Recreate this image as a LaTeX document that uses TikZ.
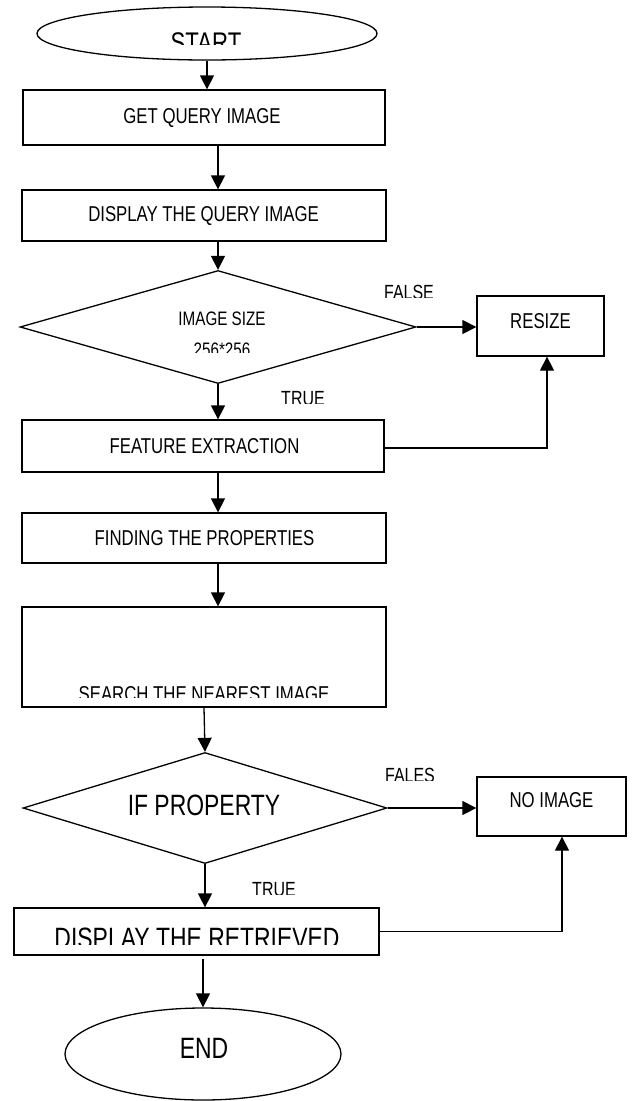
\documentclass[tikz,border=0pt]{standalone}
\usepackage{fontspec}
\setmainfont{Liberation Sans}[FakeStretch=0.78]
\usetikzlibrary{shapes.geometric,arrows.meta}
\tikzset{
  shp/.style={draw=black, line width=1.3pt, inner sep=0pt, fill=white},
  boxn/.style={shp, rectangle},
  ell/.style={shp, ellipse},
  dia/.style={shp, diamond},
  txt/.style={anchor=base, inner sep=0pt, font=\fontsize{21.5}{25}\selectfont},
  bigtxt/.style={txt, font=\fontsize{29.4}{33}\selectfont},
  lbl/.style={txt, font=\fontsize{20.5}{24}\selectfont},
  arr/.style={draw=black, line width=1.3pt, -{Triangle[length=14pt,width=14pt]}},
  ln/.style={draw=black, line width=1.3pt}
}
\begin{document}
\begin{tikzpicture}[x=1pt,y=-1pt]
\useasboundingbox (0,0) rectangle (632,1101);
\fill[white] (0,0) rectangle (632,1101);
% shapes
\node[ell, minimum width=340pt, minimum height=53pt] (s) at (207,33.5) {};
\node[boxn, minimum width=362pt, minimum height=55pt] (q1) at (204,117.5) {};
\node[boxn, minimum width=364pt, minimum height=51pt] (q2) at (204,215.5) {};
\node[dia, minimum width=396pt, minimum height=113pt] (d1) at (218,327) {};
\node[boxn, minimum width=127pt, minimum height=60pt] (r) at (540.5,326) {};
\node[boxn, minimum width=362pt, minimum height=52pt] (fe) at (203,446) {};
\node[boxn, minimum width=364pt, minimum height=50pt] (fp) at (204,538) {};
\node[boxn, minimum width=364pt, minimum height=100pt] (se) at (204,657) {};
\node[dia, minimum width=364pt, minimum height=111pt] (d2) at (205,808) {};
\node[boxn, minimum width=149pt, minimum height=59pt] (ni) at (551.5,806.5) {};
\node[boxn, minimum width=365pt, minimum height=47pt] (dr) at (196.5,931.5) {};
\node[ell, minimum width=276pt, minimum height=92pt] (e) at (203,1054) {};
\coordinate (rx) at (547,0);
\coordinate (nx) at (562,0);
% texts (unclipped)
\node[txt] (t1) at (202,123) {GET QUERY IMAGE};
\node[txt] (t2) at (203.5,221) {DISPLAY THE QUERY IMAGE};
\node[txt, font=\fontsize{19.5}{23}\selectfont] (t3) at (222,325) {IMAGE SIZE};
\node[txt] (t4) at (540.5,328) {RESIZE};
\node[txt] (t5) at (204.5,453) {FEATURE EXTRACTION};
\node[txt] (t6) at (204.5,545) {FINDING THE PROPERTIES};
\node[bigtxt] (t7) at (204,815) {IF PROPERTY};
\node[txt] (t8) at (551.5,807) {NO IMAGE};
\node[bigtxt] (t9) at (204,1058) {END};
% texts (clipped at the bottom, as printed)
\begin{scope}
\clip (0,0) rectangle (632,44);
\node[bigtxt, font=\fontsize{28.4}{32}\selectfont] (t0) at (206,52) {START};
\end{scope}
\begin{scope}
\clip (0,330) rectangle (632,352);
\node[txt, font=\fontsize{19.5}{23}\selectfont] (t3b) at (222,356) {256*256};
\end{scope}
\begin{scope}
\clip (360,270) rectangle (470,297);
\node[lbl] (lf1) at (409,299.5) {FALSE};
\end{scope}
\begin{scope}
\clip (260,385) rectangle (350,403);
\node[lbl] (lt1) at (303,405.5) {TRUE};
\end{scope}
\begin{scope}
\clip (30,670) rectangle (380,697);
\node[txt] (t10) at (204,701.5) {SEARCH THE NEAREST IMAGE};
\end{scope}
\begin{scope}
\clip (360,755) rectangle (470,780);
\node[lbl] (lf2) at (410,782.5) {FALES};
\end{scope}
\begin{scope}
\clip (230,875) rectangle (330,894);
\node[lbl] (lt2) at (274,896.5) {TRUE};
\end{scope}
\begin{scope}
\clip (20,912) rectangle (375,944);
\node[bigtxt] (t11) at (197,948) {DISPLAY THE RETRIEVED};
\end{scope}
% connectors
\draw[arr] (s.south) -- (q1.north -| s.south);
\draw[arr] (q1.south -| d1.north) -- (q2.north -| d1.north);
\draw[arr] (q2.south -| d1.north) -- (d1.north);
\draw[arr] (d1.east) -- (d1.east -| r.west);
\draw[arr] (d1.south) -- (fe.north -| d1.south);
\draw[arr] ([yshift=-2pt]fe.east) -- ([yshift=-2pt]fe.east -| rx) -- (r.south -| rx);
\draw[arr] (fe.south -| d1.south) -- (fp.north -| d1.south);
\draw[arr] (fp.south -| d1.south) -- (se.north -| d1.south);
\draw[arr] (se.south) -- (d2.north);
\draw[arr] (d2.east) -- (d2.east -| ni.west);
\draw[arr] (d2.south) -- (dr.north -| d2.south);
\draw[arr] (dr.east) -- (dr.east -| nx) -- (ni.south -| nx);
\draw[arr] ([yshift=-3pt]dr.south -| e.north) -- (e.north);
\end{tikzpicture}
\end{document}
